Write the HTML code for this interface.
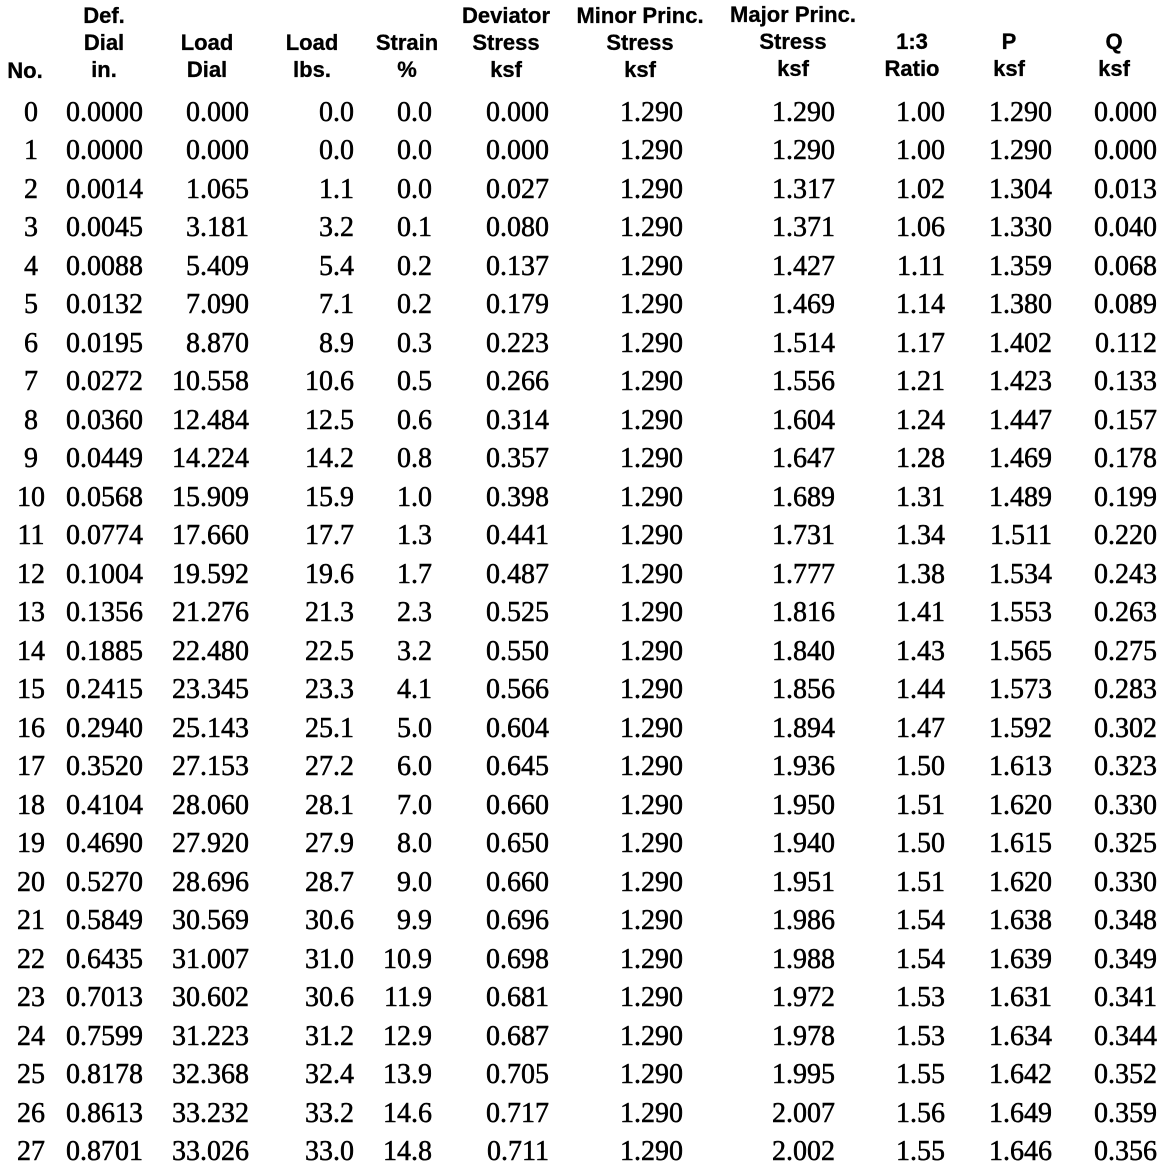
<!DOCTYPE html>
<html><head><meta charset="utf-8"><style>
body{margin:0;width:1168px;height:1168px;background:#fff;position:relative;overflow:hidden;color:#000}
.h{position:absolute;font-family:"Liberation Sans",sans-serif;font-weight:bold;font-size:22px;line-height:27px;text-align:center;width:200px;white-space:nowrap;-webkit-text-stroke:0.3px #000}
.r{position:absolute;left:0;width:1168px;height:30px;font-family:"Liberation Serif",serif;font-size:28px;line-height:30px;margin-top:1px;-webkit-text-stroke:0.5px #000}
.r span{position:absolute;top:0;white-space:nowrap}
.r span:nth-child(1){left:-69px;width:200px;text-align:center}
.r span:nth-child(2){right:1025px}
.r span:nth-child(3){right:919px}
.r span:nth-child(4){right:814px}
.r span:nth-child(5){right:736px}
.r span:nth-child(6){right:619px}
.r span:nth-child(7){right:485px}
.r span:nth-child(8){right:333px}
.r span:nth-child(9){right:223px}
.r span:nth-child(10){right:116px}
.r span:nth-child(11){right:11px}
</style></head><body>
<div class="h" style="left:-75px;top:57px">No.</div>
<div class="h" style="left:4px;top:2px">Def.<br>Dial<br>in.</div>
<div class="h" style="left:107px;top:29px">Load<br>Dial</div>
<div class="h" style="left:212px;top:29px">Load<br>lbs.</div>
<div class="h" style="left:307px;top:29px">Strain<br>%</div>
<div class="h" style="left:406px;top:2px">Deviator<br>Stress<br>ksf</div>
<div class="h" style="left:540px;top:2px">Minor Princ.<br>Stress<br>ksf</div>
<div class="h" style="left:693px;top:1px">Major Princ.<br>Stress<br>ksf</div>
<div class="h" style="left:812px;top:28px">1:3<br>Ratio</div>
<div class="h" style="left:909px;top:28px">P<br>ksf</div>
<div class="h" style="left:1014px;top:28px">Q<br>ksf</div>

<div class="r" style="top:97px"><span>0</span><span>0.0000</span><span>0.000</span><span>0.0</span><span>0.0</span><span>0.000</span><span>1.290</span><span>1.290</span><span>1.00</span><span>1.290</span><span>0.000</span></div>
<div class="r" style="top:135px"><span>1</span><span>0.0000</span><span>0.000</span><span>0.0</span><span>0.0</span><span>0.000</span><span>1.290</span><span>1.290</span><span>1.00</span><span>1.290</span><span>0.000</span></div>
<div class="r" style="top:174px"><span>2</span><span>0.0014</span><span>1.065</span><span>1.1</span><span>0.0</span><span>0.027</span><span>1.290</span><span>1.317</span><span>1.02</span><span>1.304</span><span>0.013</span></div>
<div class="r" style="top:212px"><span>3</span><span>0.0045</span><span>3.181</span><span>3.2</span><span>0.1</span><span>0.080</span><span>1.290</span><span>1.371</span><span>1.06</span><span>1.330</span><span>0.040</span></div>
<div class="r" style="top:251px"><span>4</span><span>0.0088</span><span>5.409</span><span>5.4</span><span>0.2</span><span>0.137</span><span>1.290</span><span>1.427</span><span>1.11</span><span>1.359</span><span>0.068</span></div>
<div class="r" style="top:289px"><span>5</span><span>0.0132</span><span>7.090</span><span>7.1</span><span>0.2</span><span>0.179</span><span>1.290</span><span>1.469</span><span>1.14</span><span>1.380</span><span>0.089</span></div>
<div class="r" style="top:328px"><span>6</span><span>0.0195</span><span>8.870</span><span>8.9</span><span>0.3</span><span>0.223</span><span>1.290</span><span>1.514</span><span>1.17</span><span>1.402</span><span>0.112</span></div>
<div class="r" style="top:366px"><span>7</span><span>0.0272</span><span>10.558</span><span>10.6</span><span>0.5</span><span>0.266</span><span>1.290</span><span>1.556</span><span>1.21</span><span>1.423</span><span>0.133</span></div>
<div class="r" style="top:405px"><span>8</span><span>0.0360</span><span>12.484</span><span>12.5</span><span>0.6</span><span>0.314</span><span>1.290</span><span>1.604</span><span>1.24</span><span>1.447</span><span>0.157</span></div>
<div class="r" style="top:443px"><span>9</span><span>0.0449</span><span>14.224</span><span>14.2</span><span>0.8</span><span>0.357</span><span>1.290</span><span>1.647</span><span>1.28</span><span>1.469</span><span>0.178</span></div>
<div class="r" style="top:482px"><span>10</span><span>0.0568</span><span>15.909</span><span>15.9</span><span>1.0</span><span>0.398</span><span>1.290</span><span>1.689</span><span>1.31</span><span>1.489</span><span>0.199</span></div>
<div class="r" style="top:520px"><span>11</span><span>0.0774</span><span>17.660</span><span>17.7</span><span>1.3</span><span>0.441</span><span>1.290</span><span>1.731</span><span>1.34</span><span>1.511</span><span>0.220</span></div>
<div class="r" style="top:559px"><span>12</span><span>0.1004</span><span>19.592</span><span>19.6</span><span>1.7</span><span>0.487</span><span>1.290</span><span>1.777</span><span>1.38</span><span>1.534</span><span>0.243</span></div>
<div class="r" style="top:597px"><span>13</span><span>0.1356</span><span>21.276</span><span>21.3</span><span>2.3</span><span>0.525</span><span>1.290</span><span>1.816</span><span>1.41</span><span>1.553</span><span>0.263</span></div>
<div class="r" style="top:636px"><span>14</span><span>0.1885</span><span>22.480</span><span>22.5</span><span>3.2</span><span>0.550</span><span>1.290</span><span>1.840</span><span>1.43</span><span>1.565</span><span>0.275</span></div>
<div class="r" style="top:674px"><span>15</span><span>0.2415</span><span>23.345</span><span>23.3</span><span>4.1</span><span>0.566</span><span>1.290</span><span>1.856</span><span>1.44</span><span>1.573</span><span>0.283</span></div>
<div class="r" style="top:713px"><span>16</span><span>0.2940</span><span>25.143</span><span>25.1</span><span>5.0</span><span>0.604</span><span>1.290</span><span>1.894</span><span>1.47</span><span>1.592</span><span>0.302</span></div>
<div class="r" style="top:751px"><span>17</span><span>0.3520</span><span>27.153</span><span>27.2</span><span>6.0</span><span>0.645</span><span>1.290</span><span>1.936</span><span>1.50</span><span>1.613</span><span>0.323</span></div>
<div class="r" style="top:790px"><span>18</span><span>0.4104</span><span>28.060</span><span>28.1</span><span>7.0</span><span>0.660</span><span>1.290</span><span>1.950</span><span>1.51</span><span>1.620</span><span>0.330</span></div>
<div class="r" style="top:828px"><span>19</span><span>0.4690</span><span>27.920</span><span>27.9</span><span>8.0</span><span>0.650</span><span>1.290</span><span>1.940</span><span>1.50</span><span>1.615</span><span>0.325</span></div>
<div class="r" style="top:867px"><span>20</span><span>0.5270</span><span>28.696</span><span>28.7</span><span>9.0</span><span>0.660</span><span>1.290</span><span>1.951</span><span>1.51</span><span>1.620</span><span>0.330</span></div>
<div class="r" style="top:905px"><span>21</span><span>0.5849</span><span>30.569</span><span>30.6</span><span>9.9</span><span>0.696</span><span>1.290</span><span>1.986</span><span>1.54</span><span>1.638</span><span>0.348</span></div>
<div class="r" style="top:944px"><span>22</span><span>0.6435</span><span>31.007</span><span>31.0</span><span>10.9</span><span>0.698</span><span>1.290</span><span>1.988</span><span>1.54</span><span>1.639</span><span>0.349</span></div>
<div class="r" style="top:982px"><span>23</span><span>0.7013</span><span>30.602</span><span>30.6</span><span>11.9</span><span>0.681</span><span>1.290</span><span>1.972</span><span>1.53</span><span>1.631</span><span>0.341</span></div>
<div class="r" style="top:1021px"><span>24</span><span>0.7599</span><span>31.223</span><span>31.2</span><span>12.9</span><span>0.687</span><span>1.290</span><span>1.978</span><span>1.53</span><span>1.634</span><span>0.344</span></div>
<div class="r" style="top:1059px"><span>25</span><span>0.8178</span><span>32.368</span><span>32.4</span><span>13.9</span><span>0.705</span><span>1.290</span><span>1.995</span><span>1.55</span><span>1.642</span><span>0.352</span></div>
<div class="r" style="top:1098px"><span>26</span><span>0.8613</span><span>33.232</span><span>33.2</span><span>14.6</span><span>0.717</span><span>1.290</span><span>2.007</span><span>1.56</span><span>1.649</span><span>0.359</span></div>
<div class="r" style="top:1136px"><span>27</span><span>0.8701</span><span>33.026</span><span>33.0</span><span>14.8</span><span>0.711</span><span>1.290</span><span>2.002</span><span>1.55</span><span>1.646</span><span>0.356</span></div>
</body></html>
